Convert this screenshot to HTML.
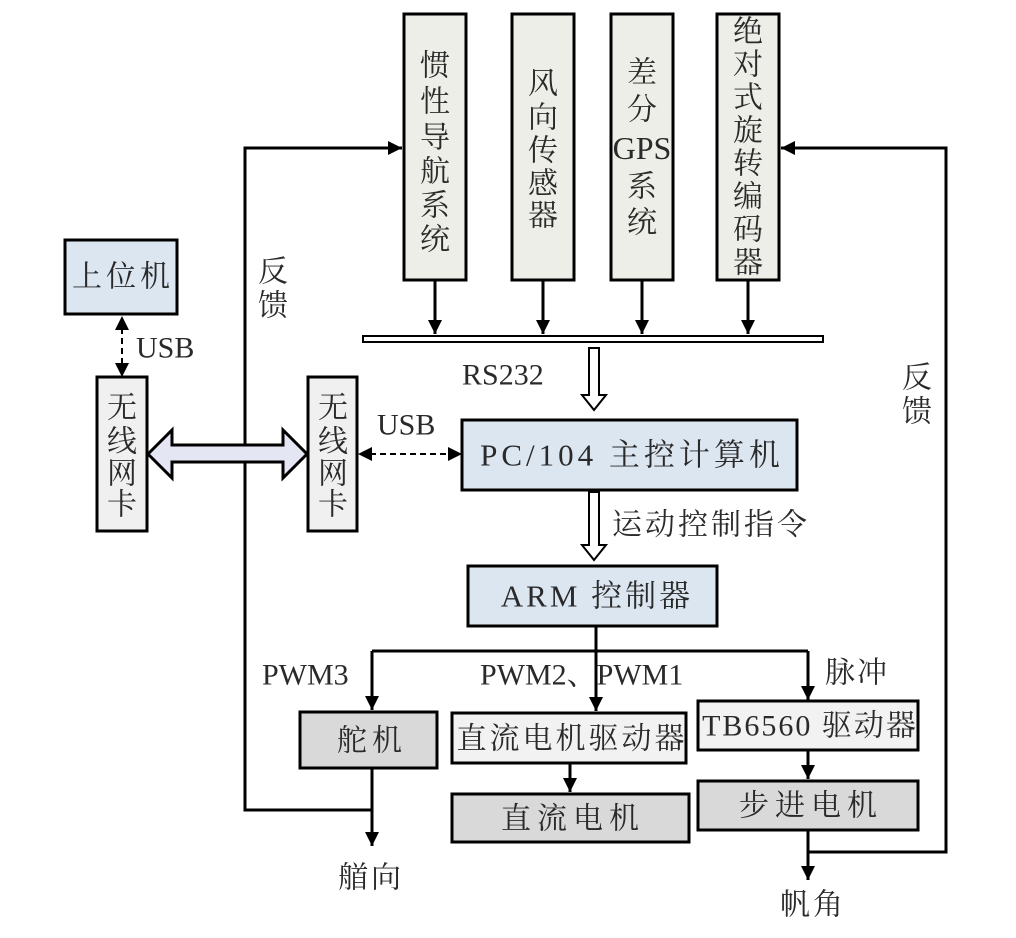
<!DOCTYPE html>
<html><head><meta charset="utf-8"><style>
html,body{margin:0;padding:0;background:#fff;}
svg text{font-family:"Liberation Serif","Noto Serif CJK SC",serif;fill:#2a2a2a;}
</style></head><body>
<svg width="1016" height="933" viewBox="0 0 1016 933" xmlns="http://www.w3.org/2000/svg">
<defs>
<marker id="a" viewBox="0 0 10 10" refX="10" refY="5" markerWidth="14" markerHeight="14" markerUnits="userSpaceOnUse" orient="auto"><path d="M0,0 L10,5 L0,10 z" fill="#000"/></marker>
</defs>
<g stroke="#000" stroke-width="3">
<rect x="404" y="14" width="62" height="266" fill="#eeeee8"/>
<rect x="512" y="14" width="62" height="266" fill="#eeeee8"/>
<rect x="611" y="14" width="62" height="266" fill="#eeeee8"/>
<rect x="717" y="14" width="62" height="266" fill="#eeeee8"/>
<rect x="363" y="336" width="460" height="6" fill="#fff" stroke-width="2"/>
<line x1="435" y1="280" x2="435" y2="334" marker-end="url(#a)"/>
<line x1="543" y1="280" x2="543" y2="334" marker-end="url(#a)"/>
<line x1="642" y1="280" x2="642" y2="334" marker-end="url(#a)"/>
<line x1="748" y1="280" x2="748" y2="334" marker-end="url(#a)"/>
<path d="M589,348 L599,348 L599,395 L606,395 L594,410 L582,395 L589,395 Z" fill="#fff" stroke-width="2"/>
<rect x="65" y="240" width="112" height="74" fill="#dce6f1"/>
<rect x="97" y="377" width="50" height="154" fill="#f0f0f0"/>
<rect x="308" y="377" width="49" height="154" fill="#f0f0f0"/>
<polyline points="372,810 245,810 245,148 402,148" fill="none" marker-end="url(#a)"/>
<path d="M148,454 L172,430 L172,445 L283,445 L283,430 L307,454 L283,478 L283,462 L172,462 L172,478 Z" fill="#e4e6f4" stroke-width="3"/>
<line x1="122" y1="318" x2="122" y2="375" stroke-width="2" stroke-dasharray="6,4"/>
<line x1="360" y1="454" x2="460" y2="454" stroke-width="2" stroke-dasharray="6,4"/>
<rect x="462" y="420" width="335" height="70" fill="#dce6f1"/>
<path d="M589,492 L599,492 L599,545 L606,545 L594,560 L582,545 L589,545 Z" fill="#fff" stroke-width="2"/>
<rect x="468" y="566" width="249" height="60" fill="#dce6f1"/>
<line x1="596" y1="626" x2="596" y2="651"/>
<line x1="372" y1="651" x2="808" y2="651"/>
<line x1="372" y1="651" x2="372" y2="710" marker-end="url(#a)"/>
<line x1="596" y1="651" x2="596" y2="711" marker-end="url(#a)"/>
<line x1="808" y1="651" x2="808" y2="700" marker-end="url(#a)"/>
<rect x="300" y="712" width="137" height="56" fill="#d9d9d9"/>
<rect x="452" y="713" width="234" height="50" fill="#f2f2f2"/>
<rect x="452" y="794" width="237" height="48" fill="#d9d9d9"/>
<rect x="698" y="701" width="220" height="49" fill="#f2f2f2"/>
<rect x="698" y="781" width="220" height="49" fill="#d9d9d9"/>
<line x1="570" y1="763" x2="570" y2="792" marker-end="url(#a)"/>
<line x1="808" y1="750" x2="808" y2="779" marker-end="url(#a)"/>
<line x1="372" y1="768" x2="372" y2="846" marker-end="url(#a)"/>
<line x1="808" y1="830" x2="808" y2="880" marker-end="url(#a)"/>
<polyline points="808,852 946,852 946,148 781,148" fill="none" marker-end="url(#a)"/>
</g>
<g fill="#000">
<path d="M122,316 L115,330 L129,330 Z"/>
<path d="M122,377 L115,363 L129,363 Z"/>
<path d="M358,454 L372,447 L372,461 Z"/>
<path d="M462,454 L448,447 L448,461 Z"/>
</g>
<g font-size="30" text-anchor="middle" dominant-baseline="central">
<text x="435" y="66">惯</text><text x="435" y="102">性</text><text x="435" y="138">导</text><text x="435" y="172">航</text><text x="435" y="206">系</text><text x="435" y="240">统</text>
<text x="543" y="84">风</text><text x="543" y="118">向</text><text x="543" y="151">传</text><text x="543" y="184">感</text><text x="543" y="216">器</text>
<text x="642" y="73">差</text><text x="642" y="110">分</text><text x="642" y="148" font-size="32">GPS</text><text x="642" y="187">系</text><text x="642" y="223">统</text>
<text x="748" y="32">绝</text><text x="748" y="65">对</text><text x="748" y="98">式</text><text x="748" y="131">旋</text><text x="748" y="164">转</text><text x="748" y="197">编</text><text x="748" y="230">码</text><text x="748" y="263">器</text>
<text x="123" y="277" letter-spacing="4">上位机</text>
<text x="122" y="408">无</text><text x="122" y="442">线</text><text x="122" y="474">网</text><text x="122" y="505">卡</text>
<text x="333" y="408">无</text><text x="333" y="442">线</text><text x="333" y="474">网</text><text x="333" y="505">卡</text>
<text x="273" y="272">反</text><text x="273" y="306">馈</text>
<text x="917" y="378">反</text><text x="917" y="412">馈</text>
<text x="632" y="455" letter-spacing="4" font-size="31">PC/104 主控计算机</text>
<text x="597" y="596" letter-spacing="3" font-size="31">ARM 控制器</text>
<text x="372" y="741" letter-spacing="5">舵机</text>
<text x="572" y="739" letter-spacing="3">直流电机驱动器</text>
<text x="573" y="819" letter-spacing="6">直流电机</text>
<text x="810" y="726" letter-spacing="2">TB6560 驱动器</text>
<text x="811" y="806" letter-spacing="6">步进电机</text>
</g>
<g font-size="30" dominant-baseline="central">
<text x="136" y="348">USB</text>
<text x="377" y="425">USB</text>
<text x="462" y="375">RS232</text>
<text x="612" y="525" letter-spacing="3">运动控制指令</text>
<text x="262" y="675">PWM3</text>
<text x="480" y="675">PWM2、PWM1</text>
<text x="825" y="673" letter-spacing="2">脉冲</text>
<text x="338" y="878" letter-spacing="3">艏向</text>
<text x="780" y="905" letter-spacing="3">帆角</text>
</g>
</svg>
</body></html>
